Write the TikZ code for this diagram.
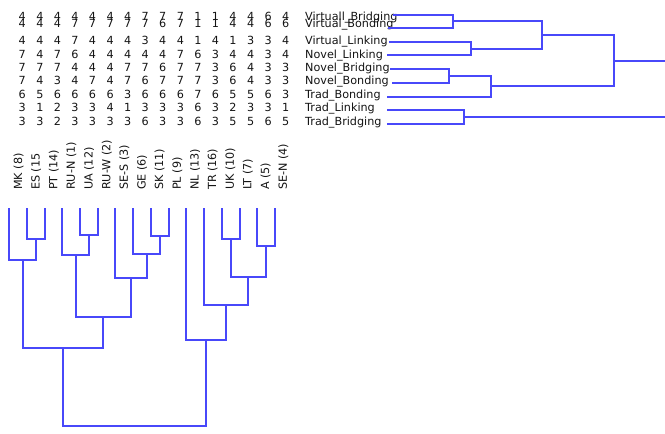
\documentclass[tikz,border=0pt]{standalone}
\usepackage{fontspec}
\setmainfont{DejaVu Sans}
\begin{document}
\begin{tikzpicture}[x=1pt,y=-1pt,
  txt/.style={inner sep=0pt, font=\fontsize{11.2}{13}\selectfont, text=black!92},
  dend/.style={draw={rgb,255:red,72;green,72;blue,250}, line width=2pt}]
\useasboundingbox[fill=white] (0,0) rectangle (665,434);

% number matrix
\foreach \b/\row [count=\r] in {
  20/{4,4,4,4,4,4,4,7,7,7,1,1,4,4,6,4},
  27.7/{4,4,4,7,7,7,7,7,6,7,1,1,4,4,6,6},
  44.4/{4,4,4,7,4,4,4,3,4,4,1,4,1,3,3,4},
  58/{7,4,7,6,4,4,4,4,4,7,6,3,4,4,3,4},
  71.4/{7,7,7,4,4,4,7,7,6,7,7,3,6,4,3,3},
  84.5/{7,4,3,4,7,4,7,6,7,7,7,3,6,4,3,3},
  98.1/{6,5,6,6,6,6,3,6,6,6,7,6,5,5,6,3},
  111.6/{3,1,2,3,3,4,1,3,3,3,6,3,2,3,3,1},
  125.1/{3,3,2,3,3,3,3,6,3,3,6,3,5,5,6,5}}{
  \foreach \v [count=\c] in \row {
    \node[txt, anchor=base] (n-\r-\c) at ({22.3+17.56*(\c-1)}, \b) {\v};
  }
}

% row labels
\foreach \b/\t [count=\r] in {
  20/Virtuall\_Bridging, 27.7/Virtual\_Bonding, 44.4/Virtual\_Linking,
  58/Novel\_Linking, 71.4/Novel\_Bridging, 84.5/Novel\_Bonding,
  98.1/Trad\_Bonding, 111.6/Trad\_Linking, 125.1/Trad\_Bridging}{
  \node[txt, anchor=base west] (r\r) at (305, \b) {\t};
}

% column labels
\foreach \t [count=\c] in {MK (8), ES (15, PT (14), RU-N (1), UA (12), RU-W (2),
  SE-S (3), GE (6), SK (11), PL (9), NL (13), TR (16), UK (10), LT (7), A (5), SE-N (4)}{
  \node[txt, rotate=90, anchor=base west] (c\c) at ({22+17.65*(\c-1)}, 190) {\t};
}

% row dendrogram
\coordinate (l1) at (393,15);
\coordinate (l2) at (388,28);
\coordinate (l3) at (389,42);
\coordinate (l4) at (387,55);
\coordinate (l5) at (390,69);
\coordinate (l6) at (392,83);
\coordinate (l7) at (387,97);
\coordinate (l8) at (387,110);
\coordinate (l9) at (387,124);
\coordinate (a12) at (453,21);
\coordinate (a34) at (471,49);
\coordinate (aA) at (542,35);
\coordinate (a56) at (449,76);
\coordinate (aB) at (491,86);
\coordinate (aC) at (614,61);
\coordinate (a89) at (464,117);
\coordinate (e1) at (665,61);
\coordinate (e2) at (665,117);
\draw[dend] (l1) -| (a12) |- (l2);
\draw[dend] (l3) -| (a34) |- (l4);
\draw[dend] (a12) -| (aA) |- (a34);
\draw[dend] (l5) -| (a56) |- (l6);
\draw[dend] (a56) -| (aB) |- (l7);
\draw[dend] (aA) -| (aC) |- (aB);
\draw[dend] (aC) -- (e1);
\draw[dend] (l8) -| (a89) |- (l9);
\draw[dend] (a89) -- (e2);

% column dendrogram
\foreach \x [count=\i from 0] in {9,27,45,62,80,98,115,133,151,169,186,204,222,240,257,275}{
  \coordinate (k\i) at (\x, 208);
}
\coordinate (b12) at (36,239);
\coordinate (b0) at (23,260);
\coordinate (b45) at (89,235);
\coordinate (b3) at (76,255);
\coordinate (b89) at (160,236);
\coordinate (b7) at (147,254);
\coordinate (b6) at (131,278);
\coordinate (bR) at (103,317);
\coordinate (bL) at (63,348);
\coordinate (b1213) at (231,239);
\coordinate (b1415) at (266,246);
\coordinate (b1215) at (248,277);
\coordinate (b11) at (226,305);
\coordinate (b10) at (206,340);
\coordinate (root) at (134,426);
\draw[dend] (k1) |- (b12) -| (k2);
\draw[dend] (k0) |- (b0) -| (b12);
\draw[dend] (k4) |- (b45) -| (k5);
\draw[dend] (k3) |- (b3) -| (b45);
\draw[dend] (k8) |- (b89) -| (k9);
\draw[dend] (k7) |- (b7) -| (b89);
\draw[dend] (k6) |- (b6) -| (b7);
\draw[dend] (b3) |- (bR) -| (b6);
\draw[dend] (b0) |- (bL) -| (bR);
\draw[dend] (k12) |- (b1213) -| (k13);
\draw[dend] (k14) |- (b1415) -| (k15);
\draw[dend] (b1213) |- (b1215) -| (b1415);
\draw[dend] (k11) |- (b11) -| (b1215);
\draw[dend] (k10) |- (b10) -| (b11);
\draw[dend] (bL) |- (root) -| (b10);
\end{tikzpicture}
\end{document}
